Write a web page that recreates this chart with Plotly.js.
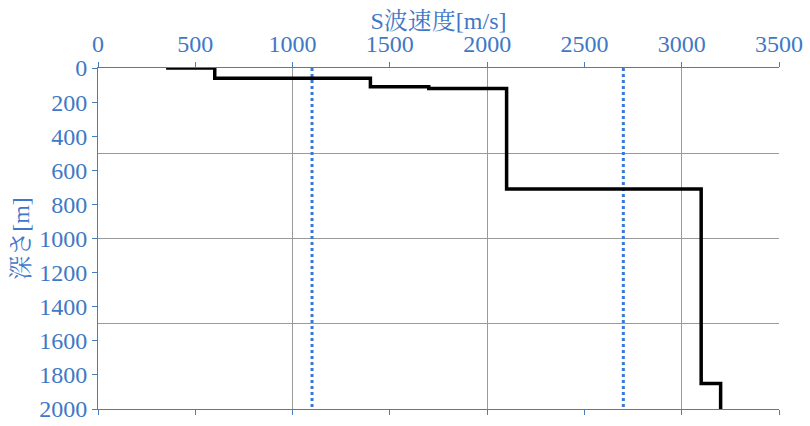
<!DOCTYPE html>
<html>
<head>
<meta charset="utf-8">
<script src="https://cdn.plot.ly/plotly-3.0.1.min.js"></script>
<style>html,body{margin:0;padding:0;background:#fff;}#chart{width:810px;height:426px;}</style>
</head>
<body>
<div id="chart"></div>
<script>
// S-wave velocity profile (velocity in m/s, depth in m)
const profileVelocity = [350, 600, 600, 1400, 1400, 1700, 1700, 2100, 2100, 3100, 3100, 3200, 3200];
const profileDepth    = [0,   0,   60,  60,   110,  110,  120,  120,  710,  710,  1850, 1850, 2000];
// reference velocity lines (dotted)
const refVelocities = [1100, 2700];
const refDepthRange = [0, 2000];
const xRange = [0, 3500];
const yRange = [2000, 0];
const xTitle = 'S波速度[m/s]';
const yTitle = '深さ[m]';

const blue = '#3f78c6';
const axisBlue = '#4a7ebb';
const font = 'Liberation Serif, Noto Serif CJK JP, serif';

const traces = [];
refVelocities.forEach(v => {
  traces.push({
    x: [v, v], y: refDepthRange, mode: 'lines', xaxis: 'x', yaxis: 'y',
    line: {color: '#3a78d8', width: 3, dash: 'dot'}, hoverinfo: 'skip', showlegend: false
  });
});
traces.push({
  x: profileVelocity, y: profileDepth, mode: 'lines', xaxis: 'x', yaxis: 'y',
  line: {color: '#000000', width: 3.5}, showlegend: false
});
// invisible trace to carry the labelled axes
traces.push({
  x: [xRange[0]], y: [yRange[1]], mode: 'markers', xaxis: 'x2', yaxis: 'y2',
  marker: {opacity: 0}, hoverinfo: 'skip', showlegend: false
});

const layout = {
  width: 810, height: 426,
  margin: {l: 98, r: 31, t: 68, b: 17},
  paper_bgcolor: '#ffffff', plot_bgcolor: '#ffffff',
  font: {family: font, color: blue, size: 24},
  showlegend: false,
  title: {
    text: xTitle, font: {family: font, color: blue, size: 24},
    xref: 'paper', x: 0.5, xanchor: 'center',
    yref: 'container', y: 0.952, yanchor: 'middle'
  },
  xaxis: {
    range: xRange, dtick: 1000, tick0: 0, showgrid: true, gridcolor: '#9a9a9a', gridwidth: 1,
    showticklabels: false, ticks: '', showline: false, zeroline: false
  },
  yaxis: {
    range: yRange, dtick: 500, tick0: 0, showgrid: true, gridcolor: '#9a9a9a', gridwidth: 1,
    showticklabels: false, ticks: '', showline: false, zeroline: false
  },
  xaxis2: {
    overlaying: 'x', anchor: 'y2', side: 'top', range: xRange, dtick: 500, tick0: 0,
    showgrid: false, zeroline: false, showline: true, linecolor: axisBlue, linewidth: 1,
    mirror: 'ticks', ticks: 'outside', ticklen: 5, tickcolor: axisBlue,
    tickfont: {family: font, color: blue, size: 24}
  },
  yaxis2: {
    overlaying: 'y', anchor: 'x2', side: 'left', range: yRange, dtick: 200, tick0: 0,
    showgrid: false, zeroline: false, showline: true, linecolor: axisBlue, linewidth: 1,
    ticks: 'outside', ticklen: 5, tickcolor: axisBlue,
    tickfont: {family: font, color: blue, size: 24},
    title: {text: yTitle, font: {family: font, color: blue, size: 24}, standoff: 2}
  }
};

Plotly.newPlot('chart', traces, layout, {staticPlot: true, displayModeBar: false});
</script>
</body>
</html>
